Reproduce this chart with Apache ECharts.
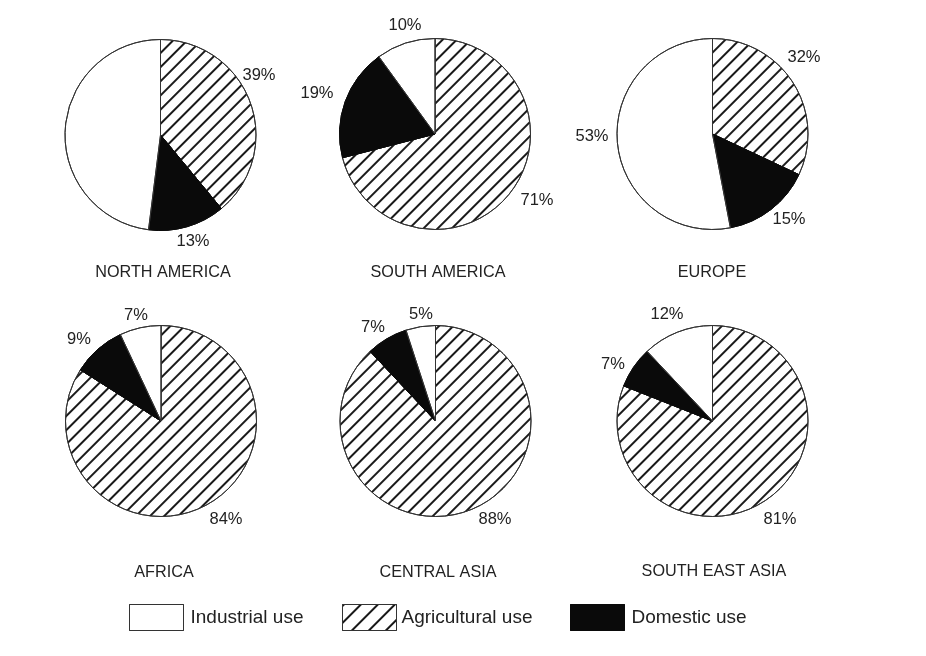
<!DOCTYPE html>
<html>
<head>
<meta charset="utf-8">
<title>Water use by region</title>
<script src="https://cdn.jsdelivr.net/npm/echarts@6/dist/echarts.min.js"></script>
<style>
html, body { margin: 0; padding: 0; background: #fff; }
#chart { width: 926px; height: 656px; }
</style>
</head>
<body>
<div id="chart"></div>
<script>
const regions = ['NORTH AMERICA', 'SOUTH AMERICA', 'EUROPE', 'AFRICA', 'CENTRAL ASIA', 'SOUTH EAST ASIA'];
const agricultural = [39, 71, 32, 84, 88, 81];
const domestic = [13, 19, 15, 9, 7, 7];
const industrial = [48, 10, 53, 7, 5, 12];
const useNames = ['Agricultural use', 'Domestic use', 'Industrial use'];

// layout, kept apart from the values
const centers = [[160.5, 135], [435, 134], [712.5, 134], [161, 421], [435.5, 421], [712.5, 421]];
const titlePos = [[163, 265], [438, 265], [712, 265], [164, 565], [438, 565], [714, 564]];
// label centres: agricultural, domestic, industrial
const labelPos = [
    [[259, 75], [193, 241], [39, 112]],
    [[537, 200], [317, 93], [405, 25]],
    [[804, 57], [789, 219], [592, 136]],
    [[226, 519], [79, 339], [136, 315]],
    [[495, 519], [373, 327], [421, 314]],
    [[780, 519], [613, 364], [667, 314]]
];
const legendPos = [[342, 401], [570, 631], [129, 190]];

const hatch = {
    symbol: 'rect',
    rotation: -Math.PI / 4,
    dashArrayX: [1, 0],
    dashArrayY: [1.2, 7.5],
    symbolSize: 1,
    color: '#1a1a1a',
    maxTileWidth: 512,
    maxTileHeight: 512
};
const legendHatch = Object.assign({}, hatch, { dashArrayY: [1.2, 9.6] });
const sliceStyles = [
    { color: '#fff', decal: hatch, borderColor: '#333', borderWidth: 1 },
    { color: '#0a0a0a', decal: { symbol: 'none' }, borderColor: '#0a0a0a', borderWidth: 1 },
    { color: '#fff', decal: { symbol: 'none' }, borderColor: '#333', borderWidth: 1 }
];

function buildPie(i) {
    const values = [agricultural[i], domestic[i], industrial[i]];
    return {
        type: 'pie',
        center: centers[i],
        radius: [0, 95.5],
        startAngle: 90,
        clockwise: true,
        silent: true,
        label: {
            show: true,
            position: 'outside',
            formatter: '{c}%',
            fontFamily: 'Liberation Sans',
            fontSize: 16.5,
            color: '#222'
        },
        labelLine: { show: false },
        labelLayout: (params) => ({
            x: labelPos[i][params.dataIndex][0],
            y: labelPos[i][params.dataIndex][1],
            align: 'center',
            verticalAlign: 'middle'
        }),
        data: values.map((v, k) => ({
            name: useNames[k],
            value: v,
            itemStyle: sliceStyles[k]
        }))
    };
}

const option = {
    animation: false,
    backgroundColor: '#fff',
    title: regions.map((r, i) => ({
        text: r,
        left: titlePos[i][0],
        top: titlePos[i][1],
        textAlign: 'center',
        padding: 0,
        textStyle: { fontFamily: 'Liberation Sans', fontSize: 16.2, fontWeight: 'normal', color: '#222' }
    })),
    legend: useNames.map((n, k) => ({
        data: [n],
        left: legendPos[k][0],
        top: 604,
        padding: 0,
        icon: 'rect',
        itemWidth: 54,
        itemHeight: 26,
        itemStyle: k === 0 ? Object.assign({}, sliceStyles[k], { decal: legendHatch }) : sliceStyles[k],
        selectedMode: false,
        textStyle: {
            fontFamily: 'Liberation Sans',
            fontSize: 19,
            color: '#222',
            padding: [0, 0, 0, legendPos[k][1] - legendPos[k][0] - 54 - 5]
        }
    })),
    series: regions.map((r, i) => buildPie(i))
};

const chart = echarts.init(document.getElementById('chart'), null, { renderer: 'canvas' });
chart.setOption(option);
</script>
</body>
</html>
